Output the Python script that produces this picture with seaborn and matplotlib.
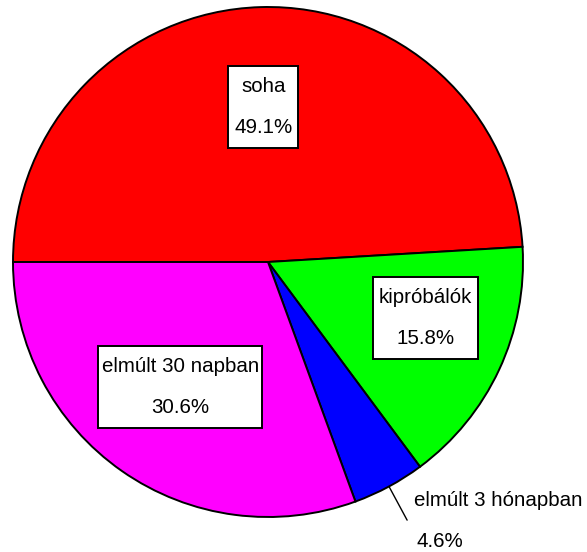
import numpy as np
import matplotlib
matplotlib.use("Agg")
import matplotlib.pyplot as plt
from matplotlib.patches import Rectangle
import seaborn as sns

categories = ["soha", "kipróbálók", "elmúlt 3 hónapban", "elmúlt 30 napban"]
values = [49.1, 15.8, 4.6, 30.6]
pct_labels = ["49.1%", "15.8%", "4.6%", "30.6%"]
colors = ["#FF0000", "#00FF00", "#0000FF", "#FF00FF"]

sns.set_theme(style="white")
plt.rcParams["font.family"] = ["Liberation Sans", "DejaVu Sans"]

W, H = 587, 552
FS = 14.8
fig = plt.figure(figsize=(W / 100, H / 100), dpi=100)
ax = fig.add_axes([0, 0, 1, 1])

cx, cy, R = 268, H - 262, 255
wedges, _ = ax.pie(values, colors=colors, startangle=180, counterclock=False,
                   center=(cx, cy), radius=R, frame=True,
                   wedgeprops=dict(edgecolor="black", linewidth=1.4))
ax.set_xlim(0, W)
ax.set_ylim(0, H)
ax.set_aspect("equal")
ax.axis("off")

fig.canvas.draw()
renderer = fig.canvas.get_renderer()

# inside labels (boxed); per-slice radial distance
dists = [0.61, 0.656, None, 0.60]
angle_adj = [0, 5.5, 0, 0]
half_gap = 20.5   # half the distance between the two text lines (px)
box_h = 82
for w, cat, pct, d, adj in zip(wedges, categories, pct_labels, dists, angle_adj):
    mid = np.deg2rad((w.theta1 + w.theta2) / 2 + adj)
    if d is not None:
        x = cx + d * R * np.cos(mid)
        y = cy + d * R * np.sin(mid)
        t1 = ax.text(x, y + half_gap, cat, ha="center", va="center",
                     fontsize=FS, color="black", zorder=5)
        t2 = ax.text(x, y - half_gap, pct, ha="center", va="center",
                     fontsize=FS, color="black", zorder=5)
        tw = max(t1.get_window_extent(renderer).width,
                 t2.get_window_extent(renderer).width)
        bw = min(tw + 12, 164)
        ax.add_patch(Rectangle((x - bw / 2, y - box_h / 2), bw, box_h,
                               facecolor="white", edgecolor="black",
                               linewidth=1.4, zorder=4))
    else:
        x0 = cx + 1.0 * R * np.cos(mid)
        y0 = cy + 1.0 * R * np.sin(mid)
        x1 = cx + 1.15 * R * np.cos(mid)
        y1 = cy + 1.15 * R * np.sin(mid)
        ax.plot([x0, x1], [y0, y1], color="black", linewidth=1.0)
        ax.text(x1 + 7, y1 + 20, cat, ha="left", va="center",
                fontsize=FS, color="black")
        ax.text(x1 + 9, y1 - 21, pct, ha="left", va="center",
                fontsize=FS, color="black")

fig.savefig("out.png", dpi=100)
